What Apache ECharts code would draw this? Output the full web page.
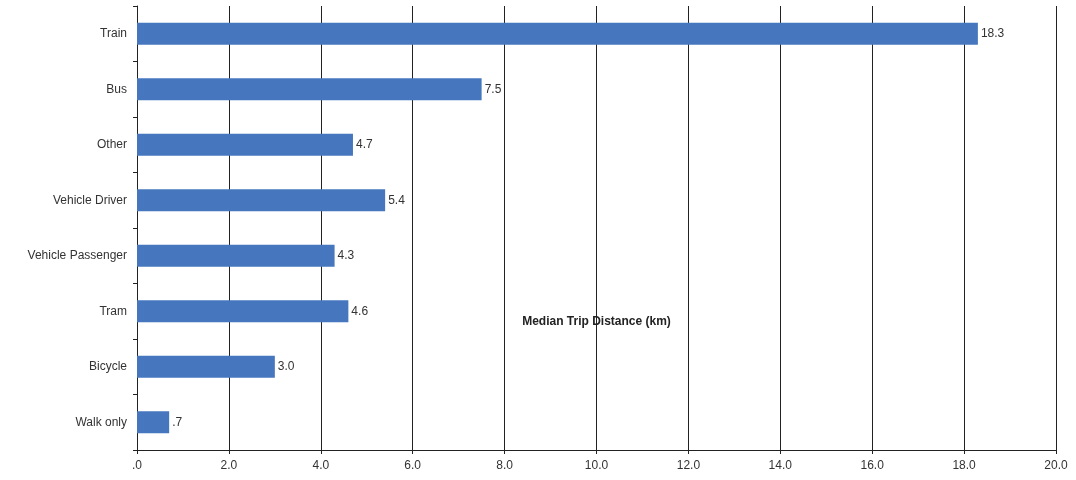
<!DOCTYPE html>
<html>
<head>
<meta charset="utf-8">
<style>
  html, body { margin: 0; padding: 0; background: #fff; }
  #chart { width: 1076px; height: 480px; }
</style>
<script src="https://cdn.jsdelivr.net/npm/echarts@6/dist/echarts.min.js"></script>
</head>
<body>
<div id="chart"></div>
<script>
var modes = ['Train', 'Bus', 'Other', 'Vehicle Driver', 'Vehicle Passenger', 'Tram', 'Bicycle', 'Walk only'];
var distances = [18.3, 7.5, 4.7, 5.4, 4.3, 4.6, 3.0, 0.7];

// 0.7 -> ".7", 0 -> ".0"
function fmt (v) {
  var s = Number(v).toFixed(1);
  return s.charAt(0) === '0' ? s.slice(1) : s;
}

var option = {
  animation: false,
  textStyle: { fontFamily: 'Liberation Sans, Arial, sans-serif' },
  grid: { left: 137, right: 20, top: 6, bottom: 30 },
  xAxis: {
    type: 'value',
    min: 0,
    max: 20,
    interval: 2,
    name: 'Median Trip Distance (km)',
    nameLocation: 'middle',
    nameGap: -134,
    nameTextStyle: { color: '#222', fontSize: 12, fontWeight: 'bold' },
    axisLine: { show: true, lineStyle: { color: '#222' } },
    axisTick: { show: true, length: 4, lineStyle: { color: '#222' } },
    axisLabel: { color: '#333', fontSize: 12, margin: 10, formatter: fmt },
    splitLine: { show: true, lineStyle: { color: '#222', width: 1 } }
  },
  yAxis: {
    type: 'category',
    data: modes,
    inverse: true,
    axisLine: { show: true, lineStyle: { color: '#222' } },
    axisTick: { show: true, length: 4, alignWithLabel: false, lineStyle: { color: '#222' } },
    axisLabel: { color: '#333', fontSize: 12, margin: 10 },
    splitLine: { show: false }
  },
  series: [{
    type: 'bar',
    data: distances,
    barWidth: 22,
    itemStyle: { color: '#4677BE' },
    label: {
      show: true,
      position: 'right',
      distance: 3,
      color: '#333',
      fontSize: 12,
      formatter: function (p) { return fmt(p.value); }
    }
  }]
};

var myChart = echarts.init(document.getElementById('chart'));
myChart.setOption(option);
</script>
</body>
</html>
